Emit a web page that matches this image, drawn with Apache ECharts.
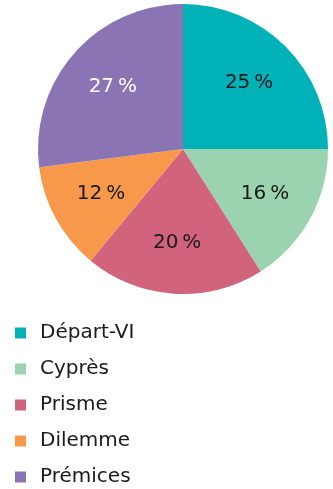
<!DOCTYPE html>
<html>
<head>
<meta charset="utf-8">
<script src="https://cdn.jsdelivr.net/npm/echarts@6/dist/echarts.min.js"></script>
<style>
  html, body { margin: 0; padding: 0; background: #fff; }
  #chart { width: 333px; height: 489px; }
</style>
</head>
<body>
<div id="chart"></div>
<script>
// Répartition par option (en %)
const categories = ['Départ-VI', 'Cyprès', 'Prisme', 'Dilemme', 'Prémices'];
const values = [25, 16, 20, 12, 27];
const colors = ['#00b2b8', '#9bd3b0', '#d1637d', '#f7984b', '#8b74b4'];
const labelColors = ['#1a1a1a', '#1a1a1a', '#1a1a1a', '#1a1a1a', '#ffffff'];

const FONT = '"DejaVu Sans", "Noto Sans", sans-serif';

const sliceData = categories.map((name, i) => ({
  name,
  value: values[i],
  itemStyle: { color: colors[i] }
}));

// Transparent ring used only to place the percentage labels further out
const labelData = categories.map((name, i) => ({
  name,
  value: values[i],
  itemStyle: { color: 'rgba(0,0,0,0)' },
  label: { color: labelColors[i] }
}));

const chart = echarts.init(document.getElementById('chart'), null, { renderer: 'canvas' });
chart.setOption({
  animation: false,
  legend: {
    orient: 'vertical',
    left: 10,
    top: 318,
    height: 200,
    icon: 'rect',
    itemWidth: 11,
    itemHeight: 11,
    itemGap: 16,
    data: categories,
    textStyle: {
      fontFamily: FONT,
      fontSize: 20,
      color: '#1a1a1a',
      padding: [0, 0, 0, 9]
    }
  },
  series: [
    {
      type: 'pie',
      center: [183, 149],
      radius: [0, 145],
      startAngle: 90,
      clockwise: true,
      silent: true,
      label: { show: false },
      labelLine: { show: false },
      itemStyle: { borderWidth: 0 },
      data: sliceData
    },
    {
      type: 'pie',
      center: [183, 149],
      radius: [36, 145],
      startAngle: 90,
      clockwise: true,
      silent: true,
      legendHoverLink: false,
      label: {
        show: true,
        position: 'inside',
        formatter: '{c}\u2009%',
        fontFamily: FONT,
        fontSize: 20
      },
      labelLine: { show: false },
      data: labelData
    }
  ]
});
</script>
</body>
</html>
